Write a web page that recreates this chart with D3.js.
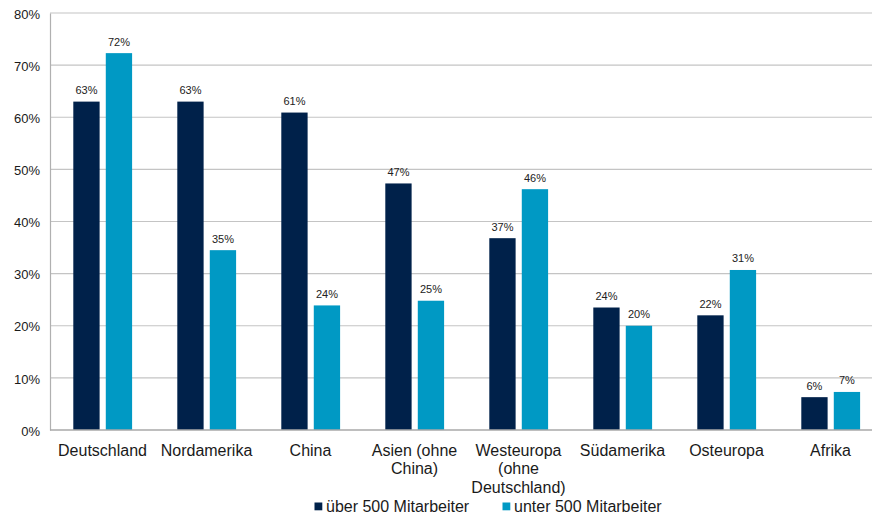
<!DOCTYPE html>
<html>
<head>
<meta charset="utf-8">
<script src="https://cdn.jsdelivr.net/npm/d3@7"></script>
<style>
  html, body { margin: 0; padding: 0; background: #fff; }
  svg { display: block; font-family: "Liberation Sans", Arial, sans-serif; }
</style>
</head>
<body>
<svg id="chart" width="872" height="517"></svg>
<script>
const categories = ["Deutschland", "Nordamerika", "China", "Asien (ohne China)", "Westeuropa (ohne Deutschland)", "Südamerika", "Osteuropa", "Afrika"];
const seriesNames = ["über 500 Mitarbeiter", "unter 500 Mitarbeiter"];
const over500 = [63.0, 63.0, 60.9, 47.3, 36.8, 23.5, 22.0, 6.3];
const under500 = [72.3, 34.5, 23.9, 24.8, 46.2, 20.0, 30.7, 7.3];
const yTicks = [0, 10, 20, 30, 40, 50, 60, 70, 80];
const colors = ["#00214a", "#0099c4"];

(function () {
const svg = d3.select("#chart");
const W = 872;
const mLeft = 50, mTop = 13, mBottom = 430;
const bandStart = 50.5, step = 104;

const x = d3.scaleBand().domain(categories)
  .range([bandStart, bandStart + step * categories.length])
  .paddingInner(0).paddingOuter(0);
const inner = d3.scaleBand().domain([0, 1]).range([22.8, 81.6]).paddingInner(0.19);
const y = d3.scaleLinear().domain([0, 80]).range([mBottom, mTop]);

// gridlines
svg.append("g").selectAll("line").data(yTicks.filter(d => d > 0)).join("line")
  .attr("x1", mLeft).attr("x2", W)
  .attr("y1", d => y(d)).attr("y2", d => y(d))
  .attr("stroke", "#c4c4c4").attr("stroke-width", 1.2);

// y axis
const yAxis = d3.axisLeft(y).tickValues(yTicks).tickFormat(d => d + "%").tickSize(0).tickPadding(10);
const gy = svg.append("g").attr("transform", `translate(${mLeft},0)`).call(yAxis);
gy.select(".domain").attr("stroke", "#b0b0b0").attr("stroke-width", 1.2);
gy.selectAll("text").attr("font-size", 13).attr("fill", "#1a1a1a")
  .attr("font-family", "Liberation Sans, Arial, sans-serif").attr("dy", "0.4em");

// bars
const groups = svg.append("g").selectAll("g").data(categories).join("g")
  .attr("transform", d => `translate(${x(d)},0)`);
const seriesVals = [over500, under500];
groups.each(function(cat, i) {
  const g = d3.select(this);
  [0, 1].forEach(s => {
    const v = seriesVals[s][i];
    g.append("rect")
      .attr("x", inner(s)).attr("width", inner.bandwidth())
      .attr("y", y(v)).attr("height", y(0) - y(v))
      .attr("fill", colors[s]);
    g.append("text")
      .attr("x", inner(s) + inner.bandwidth() / 2).attr("y", y(v) - 7.5)
      .attr("text-anchor", "middle").attr("font-size", 11).attr("fill", "#222")
      .text(Math.round(v) + "%");
  });
});

// x axis line
svg.append("line").attr("x1", mLeft).attr("x2", W).attr("y1", y(0)).attr("y2", y(0))
  .attr("stroke", "#a8a8a8").attr("stroke-width", 1.5);

// category labels with wrapping
const xAxis = d3.axisBottom(x).tickSize(0).tickPadding(0);
const gx = svg.append("g").attr("transform", `translate(0,${y(0)})`).call(xAxis);
gx.select(".domain").remove();
gx.selectAll("text").attr("font-size", 16).attr("fill", "#1a1a1a")
  .attr("font-family", "Liberation Sans, Arial, sans-serif")
  .attr("y", 25.5).attr("dy", 0)
  .each(function(d) {
    const t = d3.select(this);
    const words = d.split(" ");
    t.text(null);
    let line = [];
    let tspan = t.append("tspan").attr("x", 0).attr("dy", 0);
    for (const w of words) {
      line.push(w);
      tspan.text(line.join(" "));
      if (tspan.node().getComputedTextLength() > step - 4 && line.length > 1) {
        line.pop();
        tspan.text(line.join(" "));
        line = [w];
        tspan = t.append("tspan").attr("x", 0).attr("dy", 18.5).text(w);
      }
    }
  });

// legend
const legendItems = [{ name: seriesNames[0], x: 314.5 }, { name: seriesNames[1], x: 502.5 }];
const lg = svg.append("g").selectAll("g").data(legendItems).join("g")
  .attr("transform", d => `translate(${d.x},502.5)`);
lg.append("rect").attr("width", 7.8).attr("height", 7.8).attr("fill", (d, i) => colors[i]);
lg.append("text").attr("x", 11.5).attr("y", 9).attr("font-size", 16).attr("fill", "#1a1a1a")
  .text(d => d.name);
})();
</script>
</body>
</html>
